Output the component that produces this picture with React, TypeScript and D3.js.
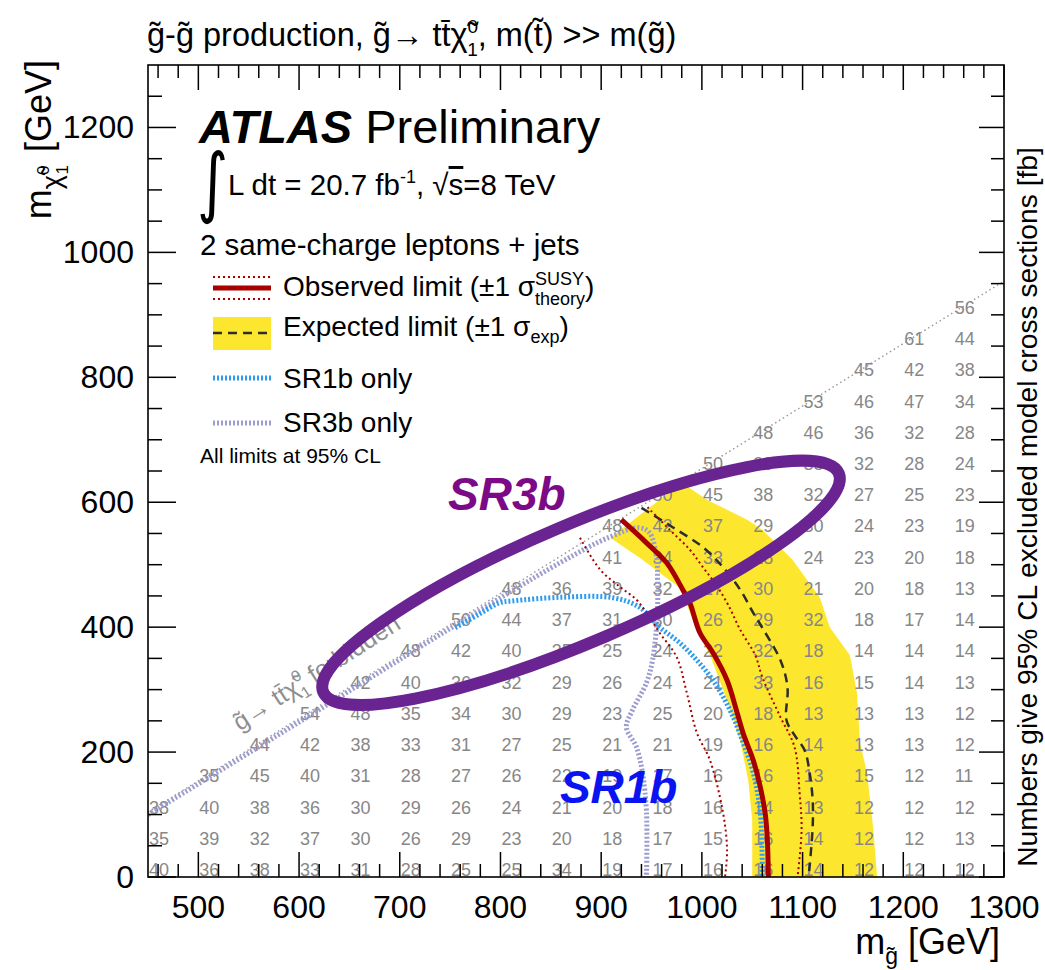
import React from "react";
import * as d3 from "d3";

// ---------- data ----------
const gluinoMasses = [450, 500, 550, 600, 650, 700, 750, 800, 850, 900, 950, 1000, 1050, 1100, 1150, 1200, 1250];
const lspMasses = [0, 50, 100, 150, 200, 250, 300, 350, 400, 450, 500, 550, 600, 650, 700, 750, 800, 850, 900];
const N = null;
// excluded cross sections [fb], one row per LSP mass, one entry per gluino mass
const xsecRows: (number | null)[][] = [
  [40, 36, 38, 33, 31, 28, 25, 25, 34, 19, 17, 16, 16, 14, 12, 12, 12],
  [35, 39, 32, 37, 30, 26, 29, 23, 20, 18, 17, 15, 16, 14, 12, 12, 13],
  [38, 40, 38, 36, 30, 29, 26, 24, 21, 20, 18, 16, 14, 13, 12, 12, 12],
  [N, 35, 45, 40, 31, 28, 27, 26, 22, 19, 17, 16, 16, 13, 15, 12, 11],
  [N, N, 44, 42, 38, 33, 31, 27, 25, 21, 21, 19, 16, 14, 13, 13, 12],
  [N, N, N, 54, 48, 35, 34, 30, 29, 23, 25, 20, 18, 13, 13, 13, 12],
  [N, N, N, N, 42, 40, 36, 32, 29, 26, 24, 21, 33, 16, 15, 14, 13],
  [N, N, N, N, N, 48, 42, 40, 35, 25, 24, 22, 32, 18, 14, 14, 14],
  [N, N, N, N, N, N, 50, 44, 37, 31, 30, 26, 29, 32, 18, 17, 14],
  [N, N, N, N, N, N, N, 48, 36, 39, 32, 27, 30, 21, 20, 18, 13],
  [N, N, N, N, N, N, N, N, N, 41, 34, 33, 28, 24, 23, 20, 18],
  [N, N, N, N, N, N, N, N, N, 48, 42, 37, 29, 30, 24, 23, 19],
  [N, N, N, N, N, N, N, N, N, N, 50, 45, 38, 32, 27, 25, 23],
  [N, N, N, N, N, N, N, N, N, N, N, 50, 39, 35, 32, 28, 24],
  [N, N, N, N, N, N, N, N, N, N, N, N, 48, 46, 36, 32, 28],
  [N, N, N, N, N, N, N, N, N, N, N, N, N, 53, 46, 47, 34],
  [N, N, N, N, N, N, N, N, N, N, N, N, N, N, 45, 42, 38],
  [N, N, N, N, N, N, N, N, N, N, N, N, N, N, N, 61, 44],
  [N, N, N, N, N, N, N, N, N, N, N, N, N, N, N, N, 56],
];

// contours [m_gluino, m_LSP]
const observedLimit = [
  [920, 572], [945, 535], [965, 503], [981, 460], [988, 439], [998, 391], [1011, 359], [1025, 315],
  [1035, 263], [1041, 230], [1051, 187], [1058, 144], [1063, 100], [1065, 60], [1066, 0],
];
const observedPlus1 = [
  [946, 592], [968, 556], [988, 524], [1001, 496], [1014, 468], [1026, 436], [1038, 396], [1053, 355],
  [1060, 320], [1078, 256], [1092, 208], [1097, 135], [1099, 75], [1095, 0],
];
const observedMinus1 = [
  [879, 543], [899, 492], [919, 464], [935, 444], [945, 423], [958, 391], [975, 352], [985, 295],
  [995, 231], [1008, 187], [1021, 103], [1025, 43], [1023, 0],
];
const expectedLimit = [
  [940, 591], [971, 560], [1001, 528], [1021, 496], [1038, 460], [1051, 423], [1060, 399], [1078, 347],
  [1085, 304], [1084, 251], [1092, 227], [1102, 203], [1107, 167], [1110, 123], [1110, 80], [1106, 0],
];
const expectedBand = [
  [909, 543], [980, 631], [1005, 604], [1025, 588], [1045, 572], [1060, 556], [1073, 535], [1090, 508],
  [1117, 448], [1127, 400], [1147, 355], [1154, 295], [1157, 215], [1164, 167], [1170, 80], [1174, 0],
  [1050, 0], [1050, 91], [1046, 155], [1038, 219], [1025, 283], [1010, 347], [991, 412], [978, 463],
  [958, 487], [941, 508],
];
const sr1bLimit = [
  [755, 399], [779, 421], [799, 439], [812, 442], [862, 448], [912, 447], [938, 432], [958, 400],
  [978, 375], [995, 347], [1011, 315], [1028, 267], [1041, 215], [1051, 167], [1058, 103], [1060, 0],
];
const sr3bLimit = [
  [450, 100], [600, 248], [750, 398], [859, 503], [908, 544], [938, 559], [948, 551], [955, 512],
  [956, 476], [956, 427], [955, 400], [951, 347], [945, 311], [931, 267], [925, 240], [935, 208],
  [941, 167], [945, 103], [945, 0],
];
const kinematicLimit = [[450, 104], [1300, 954]];

const xMajorTicks = [500, 600, 700, 800, 900, 1000, 1100, 1200, 1300];
const yMajorTicks = [0, 200, 400, 600, 800, 1000, 1200];

// ---------- style ----------
const FONT = "'Liberation Sans', Arial, Helvetica, sans-serif";
const RED = "#a80000";
const YELLOW = "#fde72e";
const BLUE = "#2b9cf0";
const LAV = "#9c9ccf";
const NUMGRAY = "#878787";

export default function App() {
  const x = d3.scaleLinear().domain([450, 1300]).range([148, 1004]);
  const y = d3.scaleLinear().domain([0, 1300]).range([877, 65]);
  const line = d3
    .line<number[]>()
    .x((d) => x(d[0]))
    .y((d) => y(d[1]))
    .curve(d3.curveCatmullRom.alpha(0.5));
  const straight = d3.line<number[]>().x((d) => x(d[0])).y((d) => y(d[1]));
  const band = d3
    .line<number[]>()
    .x((d) => x(d[0]))
    .y((d) => y(d[1]))
    .curve(d3.curveLinearClosed);

  const xMinor = d3.range(460, 1300, 20).filter((v) => v % 100 !== 0);
  const yMinor = d3.range(50, 1300, 50).filter((v) => v % 200 !== 0);
  const [L, R] = x.range();
  const [B, T] = y.range();

  const cells: { mg: number; ml: number; v: number }[] = [];
  xsecRows.forEach((row, j) =>
    row.forEach((v, i) => {
      if (v != null) cells.push({ mg: gluinoMasses[i], ml: lspMasses[j], v });
    })
  );

  return (
    <svg
      width={1045}
      height={970}
      style={{ position: "absolute", left: 0, top: 0, background: "#fff" }}
      fontFamily={FONT}
    >
      <defs>
        <clipPath id="plotclip">
          <rect x={L} y={T} width={R - L} height={B - T} />
        </clipPath>
      </defs>
      <rect x={0} y={0} width={1045} height={970} fill="#fff" />

      {/* title */}
      <text x={147} y={46} fontSize={32.5} fill="#000">
        {"g\u0303-g\u0303 production, g\u0303\u2192 tt\u0304\u03C7\u0303"}
        <tspan dy={-13} fontSize={19}>0</tspan>
        <tspan dx={-11} dy={23} fontSize={19}>1</tspan>
        <tspan dy={-10}>{", m(t\u0303) >> m(g\u0303)"}</tspan>
      </text>

      <g clipPath="url(#plotclip)">
        {/* expected band */}
        <path d={band(expectedBand) || ""} fill={YELLOW} stroke="none" />
        {/* kinematic limit */}
        <path d={straight(kinematicLimit) || ""} fill="none" stroke="#9a9a9a" strokeWidth={1.5} strokeDasharray="1.5 3" />
        {/* numbers */}
        {cells.map((c, k) => (
          <text key={k} x={x(c.mg) + 1} y={y(c.ml) - 1} fontSize={18} fill={NUMGRAY}>
            {c.v}
          </text>
        ))}
        {/* forbidden label */}
        <text
          transform={`translate(${x(541)},${y(233)}) rotate(-32.5)`}
          fontSize={25}
          fill="#8f8f8f"
        >
          {"g\u0303\u2192 tt\u0304\u03C7\u0303"}
          <tspan dy={-11} fontSize={16}>0</tspan>
          <tspan dx={-9} dy={19} fontSize={16}>1</tspan>
          <tspan dy={-8}>{" forbidden"}</tspan>
        </text>
        {/* SR3b only */}
        <path d={line(sr3bLimit) || ""} fill="none" stroke={LAV} strokeWidth={5} strokeDasharray="2 2" />
        {/* SR1b only */}
        <path d={line(sr1bLimit) || ""} fill="none" stroke={BLUE} strokeWidth={5} strokeDasharray="2 2" />
        {/* expected */}
        <path d={line(expectedLimit) || ""} fill="none" stroke="#2d2d2d" strokeWidth={2.5} strokeDasharray="9 6" />
        {/* observed +-1 sigma */}
        <path d={line(observedPlus1) || ""} fill="none" stroke={RED} strokeWidth={2} strokeDasharray="2 3" />
        <path d={line(observedMinus1) || ""} fill="none" stroke={RED} strokeWidth={2} strokeDasharray="2 3" />
        {/* observed */}
        <path d={line(observedLimit) || ""} fill="none" stroke={RED} strokeWidth={5} />
      </g>

      {/* frame and ticks */}
      <rect x={L} y={T} width={R - L} height={B - T} fill="none" stroke="#000" strokeWidth={1.6} />
      {xMajorTicks.map((t) => (
        <g key={"xM" + t}>
          <line x1={x(t)} x2={x(t)} y1={B} y2={B - 25} stroke="#000" strokeWidth={1.5} />
          <line x1={x(t)} x2={x(t)} y1={T} y2={T + 25} stroke="#000" strokeWidth={1.5} />
          <text x={x(t)} y={918} fontSize={32} textAnchor="middle" fill="#000">
            {t}
          </text>
        </g>
      ))}
      {xMinor.map((t) => (
        <g key={"xm" + t}>
          <line x1={x(t)} x2={x(t)} y1={B} y2={B - 13} stroke="#000" strokeWidth={1.5} />
          <line x1={x(t)} x2={x(t)} y1={T} y2={T + 13} stroke="#000" strokeWidth={1.5} />
        </g>
      ))}
      {yMajorTicks.map((t) => (
        <g key={"yM" + t}>
          <line x1={L} x2={L + 28} y1={y(t)} y2={y(t)} stroke="#000" strokeWidth={1.5} />
          <line x1={R} x2={R - 25} y1={y(t)} y2={y(t)} stroke="#000" strokeWidth={1.5} />
          <text x={134} y={y(t) + 11} fontSize={32} textAnchor="end" fill="#000">
            {t}
          </text>
        </g>
      ))}
      {yMinor.map((t) => (
        <g key={"ym" + t}>
          <line x1={L} x2={L + 14} y1={y(t)} y2={y(t)} stroke="#000" strokeWidth={1.5} />
          <line x1={R} x2={R - 13} y1={y(t)} y2={y(t)} stroke="#000" strokeWidth={1.5} />
        </g>
      ))}

      {/* axis titles */}
      <text x={1000} y={954} fontSize={36} textAnchor="end" fill="#000">
        m<tspan dy={10} fontSize={23}>{"g\u0303"}</tspan>
        <tspan dy={-10}>{" [GeV]"}</tspan>
      </text>
      <text transform="translate(51,60) rotate(-90)" fontSize={36} textAnchor="end" fill="#000">
        m<tspan dy={10} fontSize={27}>{"\u03C7\u0303"}</tspan>
        <tspan dy={-12} fontSize={17}>0</tspan>
        <tspan dx={-9} dy={19} fontSize={17}>1</tspan>
        <tspan dx={3} dy={-17}>{" [GeV]"}</tspan>
      </text>
      <text transform="translate(1037,507) rotate(-90)" fontSize={28.2} textAnchor="middle" fill="#000">
        Numbers give 95% CL excluded model cross sections [fb]
      </text>

      {/* ATLAS label and legend */}
      <text x={199} y={143} fontSize={47} fill="#000">
        <tspan fontWeight="bold" fontStyle="italic">ATLAS</tspan>
        <tspan>{" Preliminary"}</tspan>
      </text>
      <text x={197} y={206} fontSize={60} fill="#000" fontFamily="'DejaVu Sans', sans-serif" transform="translate(0,-56) scale(1,1.28)">
        {"\u222B"}
      </text>
      <text x={228} y={195} fontSize={29.5} fill="#000">
        {"L dt = 20.7 fb"}
        <tspan dy={-12} fontSize={18}>-1</tspan>
        <tspan dy={12}>{", \u221A"}</tspan>
        <tspan textDecoration="overline">s</tspan>
        <tspan>{"=8 TeV"}</tspan>
      </text>
      <text x={200} y={255} fontSize={29.5} fill="#000">
        2 same-charge leptons + jets
      </text>

      {/* observed */}
      <line x1={213} x2={271} y1={277} y2={277} stroke={RED} strokeWidth={2} strokeDasharray="2 3" />
      <line x1={213} x2={271} y1={288} y2={288} stroke={RED} strokeWidth={5} />
      <line x1={213} x2={271} y1={299} y2={299} stroke={RED} strokeWidth={2} strokeDasharray="2 3" />
      <text x={283} y={296} fontSize={28} fill="#000">
        {"Observed limit (\u00B11 \u03C3"}
        <tspan dy={-11} fontSize={18}>SUSY</tspan>
        <tspan dx={-49} dy={20} fontSize={18}>theory</tspan>
        <tspan dy={-9}>)</tspan>
      </text>
      {/* expected */}
      <rect x={213} y={317} width={58} height={33} fill={YELLOW} />
      <line x1={213} x2={271} y1={333} y2={333} stroke="#2d2d2d" strokeWidth={2.5} strokeDasharray="9 6" />
      <text x={283} y={336} fontSize={28} fill="#000">
        {"Expected limit (\u00B11 \u03C3"}
        <tspan dy={7} fontSize={18}>exp</tspan>
        <tspan dy={-7}>)</tspan>
      </text>
      {/* SR1b */}
      <line x1={213} x2={271} y1={378} y2={378} stroke={BLUE} strokeWidth={5} strokeDasharray="2 2" />
      <text x={283} y={388} fontSize={28} fill="#000">SR1b only</text>
      {/* SR3b */}
      <line x1={213} x2={271} y1={423} y2={423} stroke={LAV} strokeWidth={5} strokeDasharray="2 2" />
      <text x={283} y={432} fontSize={28} fill="#000">SR3b only</text>
      <text x={200} y={463} fontSize={21} fill="#000">All limits at 95% CL</text>

      {/* annotations */}
      <ellipse
        cx={0}
        cy={0}
        rx={280}
        ry={59}
        transform={`translate(${x(880)},${y(471)}) rotate(-23)`}
        fill="none"
        stroke="#6a2491"
        strokeWidth={12}
      />
      <text x={x(748)} y={y(588)} fontSize={46} fontWeight="bold" fontStyle="italic" fill="#7c0a86">
        SR3b
      </text>
      <text x={x(859)} y={y(118)} fontSize={46} fontWeight="bold" fontStyle="italic" fill="#0a14f0">
        SR1b
      </text>
    </svg>
  );
}
